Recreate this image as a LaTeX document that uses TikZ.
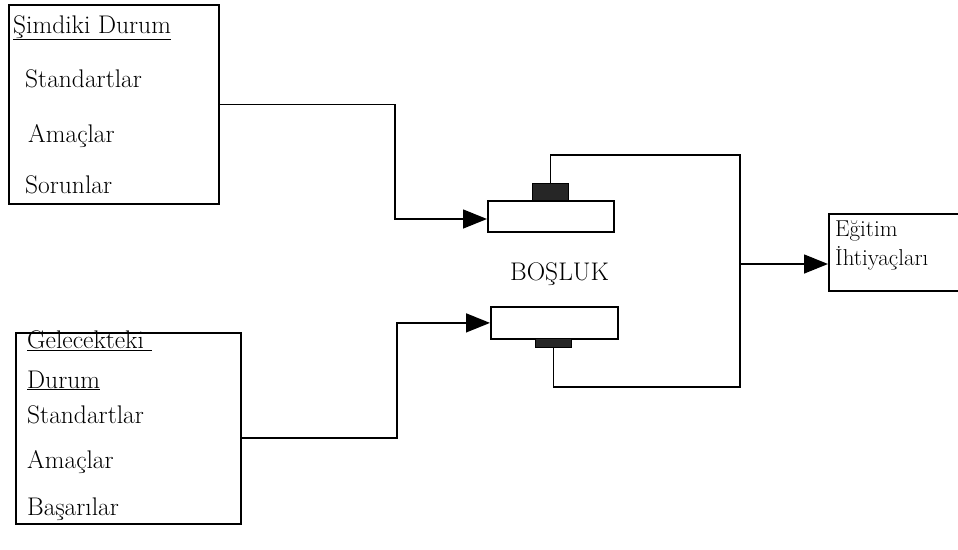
\documentclass[tikz,border=0pt]{standalone}
\usepackage{fontspec}
\usetikzlibrary{arrows.meta}
\begin{document}
\begin{tikzpicture}[x=1pt,y=-1pt,
  kutu/.style={draw,line width=1.8pt,anchor=north west,inner sep=0pt},
  blok/.style={draw,fill=black!85,line width=0.8pt,anchor=north west,inner sep=0pt},
  yazi/.style={anchor=base west,inner sep=0pt,font=\fontsize{25.5}{28}\selectfont},
  hat/.style={line width=1.5pt},
  ok/.style={hat,-{Triangle[length=24pt,width=19pt]}}]
\useasboundingbox (0,0) rectangle (958,549);
% kutular
\node[kutu,minimum width=210pt,minimum height=199pt] (simdiki) at (8,4) {};
\node[kutu,minimum width=225pt,minimum height=191pt] (gelecek) at (15,332) {};
\node[kutu,minimum width=126pt,minimum height=31pt] (ust) at (487,200) {};
\node[kutu,minimum width=127pt,minimum height=32pt] (alt) at (490,306) {};
\node[blok,minimum width=36pt,minimum height=17pt] (ustblok) at (532,183) {};
\node[blok,minimum width=36pt,minimum height=9pt] (altblok) at (535,338) {};
\node[kutu,minimum width=131pt,minimum height=77pt] (egitim) at (828,213) {};
% yazilar
\node[yazi] (sd) at (13,33) {\underline{Şimdiki Durum}};
\node[yazi] (sd1) at (25,87) {Standartlar};
\node[yazi] (sd2) at (28,142) {Amaçlar};
\node[yazi] (sd3) at (25,193) {Sorunlar};
\node[yazi] (gd) at (27,348) {\underline{\hbox{Gelecekteki\ }}};
\node[yazi] (gd0) at (27,388) {\underline{Durum}};
\node[yazi] (gd1) at (27,423) {Standartlar};
\node[yazi] (gd2) at (27,468) {Amaçlar};
\node[yazi] (gd3) at (27,515) {Başarılar};
\node[yazi] (bosluk) at (510,280) {BOŞLUK};
\node[yazi,font=\fontsize{23}{25}\selectfont] (e1) at (835,236) {Eğitim};
\node[yazi,font=\fontsize{23}{25}\selectfont] (e2) at (835,265) {İhtiyaçları};
% baglantilar
\coordinate (k1) at (395,219);
\coordinate (k2) at (397,438);
\coordinate (k3) at (740,155);
\coordinate (k4) at (740,387);
\coordinate (k5) at (740,264);
\draw[ok] (simdiki.east) -| (k1) -- (ust.west |- k1);
\draw[ok] (gelecek.east |- k2) -- (k2) |- (alt.west);
\draw[hat] (ustblok.north) |- (k3) -- (k4) -| (altblok.south);
\draw[ok] (k5) -- (egitim.west |- k5);
\end{tikzpicture}
\end{document}
